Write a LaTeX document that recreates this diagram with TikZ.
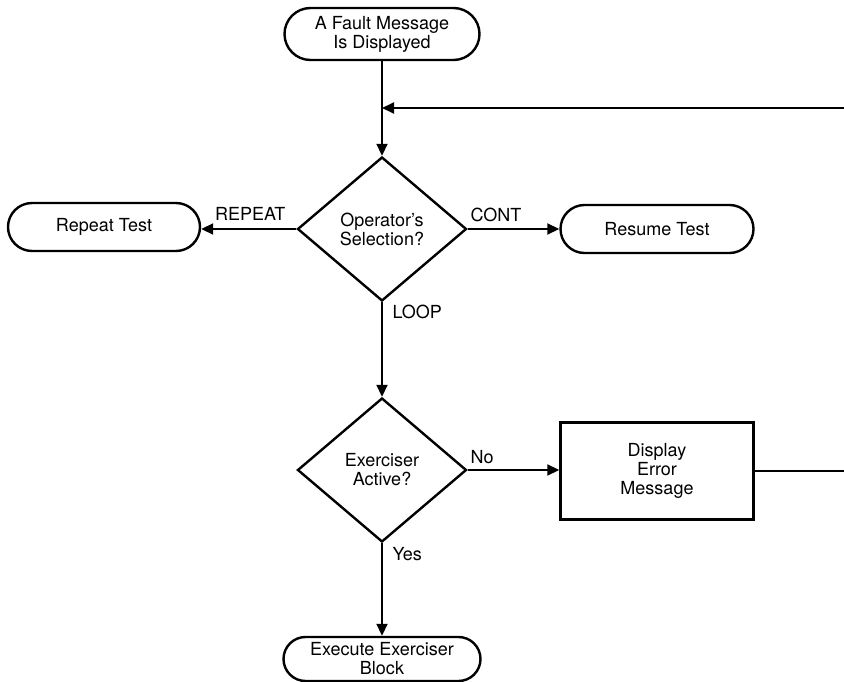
\documentclass[tikz,border=0pt]{standalone}
\usepackage{fontspec}
\setmainfont{TeX Gyre Heros}
\usetikzlibrary{arrows.meta,shapes.geometric,shapes.misc}
\begin{document}
\begin{tikzpicture}[x=1pt,y=-1pt,
    font=\fontsize{18}{19}\selectfont,
    term/.style={draw,rounded rectangle,line width=2.4pt,inner sep=0pt,align=center},
    decision/.style={draw,diamond,line width=2.4pt,inner sep=0pt,align=center,minimum width=169pt,minimum height=144pt},
    block/.style={draw,rectangle,line width=2.4pt,inner sep=0pt,align=center,minimum width=193pt,minimum height=97pt},
    arrow/.style={line width=1.8pt,-{Triangle[length=12pt,width=11pt]}},
    line/.style={line width=1.8pt}]

            \useasboundingbox (0,0) rectangle (844,682);
            \node[term,minimum width=195pt,minimum height=52pt] (fault) at (382,34) {A Fault Message\\Is Displayed};
            \node[decision] (select) at (382,229) {Operator's\\Selection?};
            \node[term,minimum width=192pt,minimum height=48pt] (rep) at (104,227) {Repeat Test};
            \node[term,minimum width=193pt,minimum height=48pt] (resume) at (657,229) {Resume Test};
            \node[decision] (active) at (382,470) {Exerciser\\Active?};
            \node[block] (errmsg) at (657,471) {Display\\Error\\Message};
            \node[term,minimum width=197pt,minimum height=44pt] (exec) at (382,659) {Execute Exerciser\\Block};
            \coordinate (back) at (844,108);
            \coordinate (out) at (844,471);

            \draw[arrow] (fault) -- (select);
            \draw[arrow] (back) -- (back -| fault.south);
            \draw[arrow] (select.west) -- (select.west -| rep.east);
            \draw[arrow] (select.east) -- (resume.west);
            \draw[arrow] (select.south) -- (active.north);
            \draw[arrow] (active.east) -- (active.east -| errmsg.west);
            \draw[arrow] (active.south) -- (exec.north);
            \draw[line] (errmsg.east) -- (out);

            \node[anchor=base east] (lrep) at (289,220) {REPEAT};
            \node[anchor=base west] (lcont) at (467,222) {CONT};
            \node[anchor=base west] (lloop) at (389,318) {LOOP};
            \node[anchor=base west] (lno) at (467,463) {No};
            \node[anchor=base west] (lyes) at (389,560) {Yes};
            \end{tikzpicture}
\end{document}
